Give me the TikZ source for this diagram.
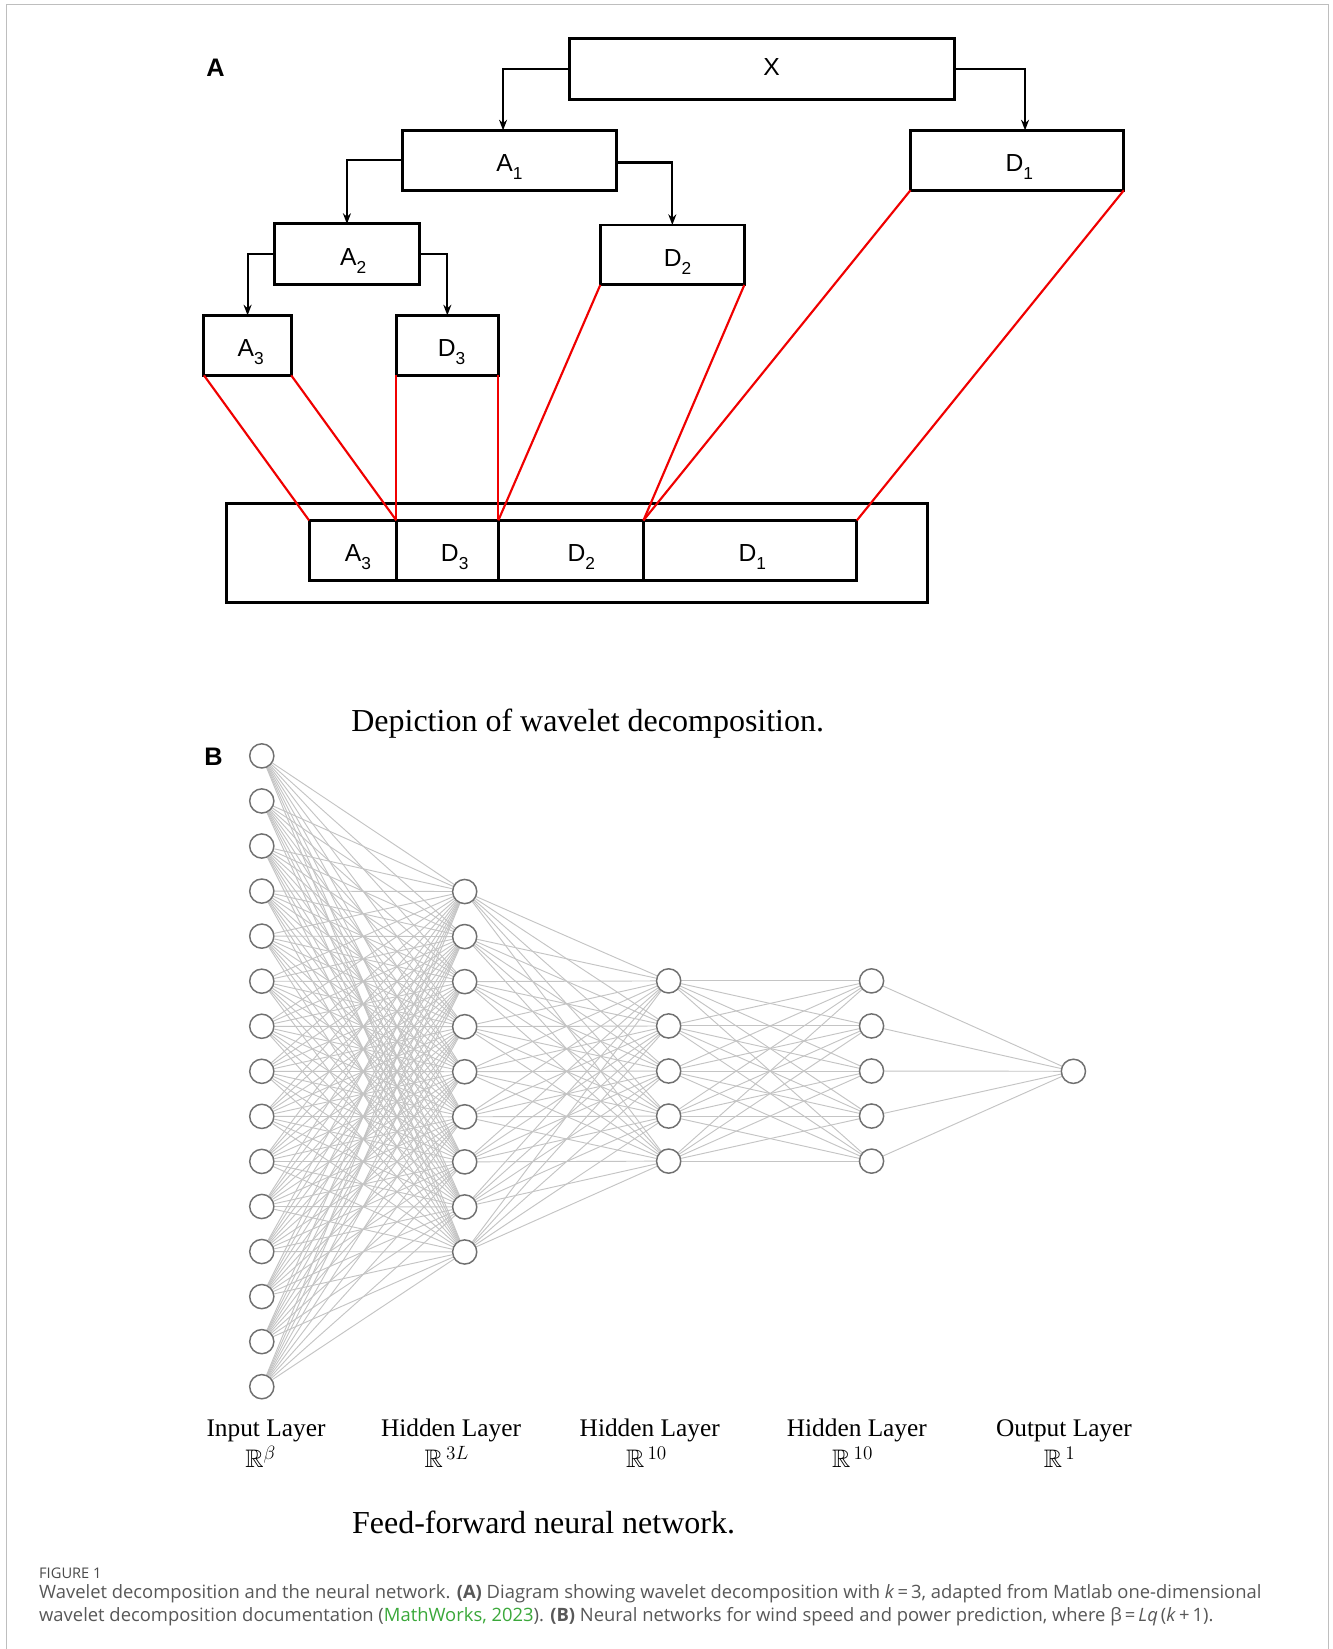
\documentclass[tikz,border=0pt]{standalone}
\usepackage{fontspec}
\usepackage{amssymb}
\setmainfont{Liberation Serif}
\newfontfamily\arial{Liberation Sans}
\newfontfamily\capsans{Open Sans}
\usetikzlibrary{arrows.meta,backgrounds}

\definecolor{redline}{RGB}{240,0,0}
\definecolor{netedge}{RGB}{196,196,196}
\definecolor{neurongray}{RGB}{112,112,112}
\definecolor{captext}{RGB}{88,88,88}
\definecolor{citegreen}{RGB}{58,168,58}
\definecolor{framegray}{RGB}{190,190,190}

% one drawing unit
\def\px{0.7885pt}
% subscript digit in the block labels
\newcommand\sbs[1]{\raisebox{-0.32em}{\fontsize{13}{13}\selectfont #1}}
% push a block label to the right by #1 drawing units
\newcommand\nudge[1]{\hspace*{\dimexpr #1\dimexpr\px\relax*2\relax}}

\begin{document}
\begin{tikzpicture}[x=\px, y=-\px,
  blk/.style={draw, line width=2.2pt, inner sep=0pt, outer sep=0pt,
    anchor=north west, font=\arial\fontsize{18.5}{18.5}\selectfont,
    text height=16.9pt, text depth=0pt},
  sz/.style 2 args={minimum width=#1*\px, minimum height=#2*\px},
  split/.style={line width=1.6pt, -{Stealth[length=8pt,width=6pt]}},
  recon/.style={draw=redline, line width=1.6pt},
  neuron/.style={circle, draw=neurongray, fill=white, line width=1.1pt,
    minimum size=23*\px, inner sep=0pt},
  synapse/.style={draw=netedge, line width=0.7pt},
  panel/.style={font=\arial\bfseries\fontsize{19}{19}\selectfont, inner sep=0pt},
  title/.style={font=\fontsize{24}{24}\selectfont, inner sep=0pt, anchor=base},
  layername/.style={font=\fontsize{19}{19}\selectfont, inner sep=0pt, anchor=base},
  capline/.style={font=\capsans\fontsize{13.8}{13.8}\selectfont, text=captext,
    inner sep=0pt, anchor=base west}
]
\useasboundingbox (0,0) rectangle (1267,1568.5);
\begin{scope}[on background layer]
  \fill[white] (0,0) rectangle (1267,1568.5);
\end{scope}
\draw[framegray, line width=1.2pt] (6.2,1568.5) -- (6.2,4.3) -- (1263.8,4.3) -- (1263.8,1568.5);

% ---------- panel A: wavelet decomposition tree ----------
\node[panel] (labA) at (205,64) {A};

\node[blk, sz={366}{58}, text height=8.5pt] (X) at (542,37) {\nudge{9}X};
\node[blk, sz={203}{57}] (A1) at (383,124) {A\sbs{1}};
\node[blk, sz={203}{57}] (D1) at (866,124) {\nudge{2}D\sbs{1}};
\node[blk, sz={138}{58}] (A2) at (261,213) {\nudge{6}A\sbs{2}};
\node[blk, sz={137}{57}] (D2) at (571,214) {\nudge{5}D\sbs{2}};
\node[blk, sz={83}{57}]  (A3) at (194,300) {\nudge{3}A\sbs{3}};
\node[blk, sz={97}{57}]  (D3) at (377,300) {\nudge{4}D\sbs{3}};

% coefficient vector
\node[blk, sz={667}{94}]  (sig) at (215,479) {};
\node[blk, sz={83}{57}]  (cA3) at (294,495) {\nudge{5}A\sbs{3}};
\node[blk, sz={97}{57}]  (cD3) at (377,495) {\nudge{7}D\sbs{3}};
\node[blk, sz={138}{57}] (cD2) at (474,495) {\nudge{10}D\sbs{2}};
\node[blk, sz={203}{57}] (cD1) at (612,495) {\nudge{2}D\sbs{1}};

\draw[split] (X.west) -| ([xshift=-6*\px]A1.north);
\draw[split] (X.east) -| ([xshift=7.5*\px]D1.north);
\draw[split] (A1.west) -| (A2.north);
\draw[split] ([yshift=-2*\px]A1.east) -| (D2.north);
\draw[split] (A2.west) -| (A3.north);
\draw[split] (A2.east) -| (D3.north);

\draw[recon] (A3.south west) -- (cA3.north west);
\draw[recon] (A3.south east) -- (cA3.north east);
\draw[recon] (D3.south west) -- (cD3.north west);
\draw[recon] (D3.south east) -- (cD3.north east);
\draw[recon] (D2.south west) -- (cD2.north west);
\draw[recon] (D2.south east) -- (cD2.north east);
\draw[recon] (D1.south west) -- (cD1.north west);
\draw[recon] (D1.south east) -- (cD1.north east);

\node[title] (tA) at (559,696) {Depiction of wavelet decomposition.};

% ---------- panel B: feed-forward network ----------
\node[panel] (labB) at (203,720) {B};

\foreach \i in {1,...,15}
  \node[neuron] (in\i) at (249,{719+(\i-1)*42.857}) {};
\foreach \j in {1,...,9}
  \node[neuron] (ha\j) at (442,{848+(\j-1)*42.857}) {};
\foreach \j in {1,...,5}
  \node[neuron] (hb\j) at (636,{933+(\j-1)*42.857}) {};
\foreach \j in {1,...,5}
  \node[neuron] (hc\j) at (829,{933+(\j-1)*42.857}) {};
\node[neuron] (out) at (1021,1019) {};

\begin{scope}[on background layer]
  \foreach \i in {1,...,15}
    \foreach \j in {1,...,9}
      \draw[synapse] (in\i) -- (ha\j);
  \foreach \i in {1,...,9}
    \foreach \j in {1,...,5}
      \draw[synapse] (ha\i) -- (hb\j);
  \foreach \i in {1,...,5}
    \foreach \j in {1,...,5}
      \draw[synapse] (hb\i) -- (hc\j);
  \foreach \i in {1,...,5}
    \draw[synapse] (hc\i) -- (out);
\end{scope}

\node[layername] (l1) at (253,1366) {Input Layer};
\node[layername] (l2) at (429,1366) {Hidden Layer};
\node[layername] (l3) at (618,1366) {Hidden Layer};
\node[layername] (l4) at (815,1366) {Hidden Layer};
\node[layername] (l5) at (1012,1366) {Output Layer};
\node[layername] (d1) at (248,1396) {$\mathbb{R}^{\beta}$};
\node[layername] (d2) at (425,1396) {$\mathbb{R}^{\,3L}$};
\node[layername] (d3) at (615,1396) {$\mathbb{R}^{\,10}$};
\node[layername] (d4) at (811,1396) {$\mathbb{R}^{\,10}$};
\node[layername] (d5) at (1008,1396) {$\mathbb{R}^{\,1}$};

\node[title] (tB) at (517,1459) {Feed-forward neural network.};

% ---------- figure caption ----------
\node[capline, font=\capsans\fontsize{11}{11}\selectfont, text=captext!85!black] (fig) at (37,1501) {FIGURE 1};
\node[capline] (cap1) at (37,1520) {Wavelet decomposition and the neural network. \textbf{(A)} Diagram showing wavelet decomposition with \textit{k}\,=\,3, adapted from Matlab one-dimensional};
\node[capline] (cap2) at (37,1542) {wavelet decomposition documentation (\textcolor{citegreen}{MathWorks, 2023}). \textbf{(B)} Neural networks for wind speed and power prediction, where β\,=\,\textit{Lq}\,(\textit{k}\,+\,1).};
\end{tikzpicture}
\end{document}
